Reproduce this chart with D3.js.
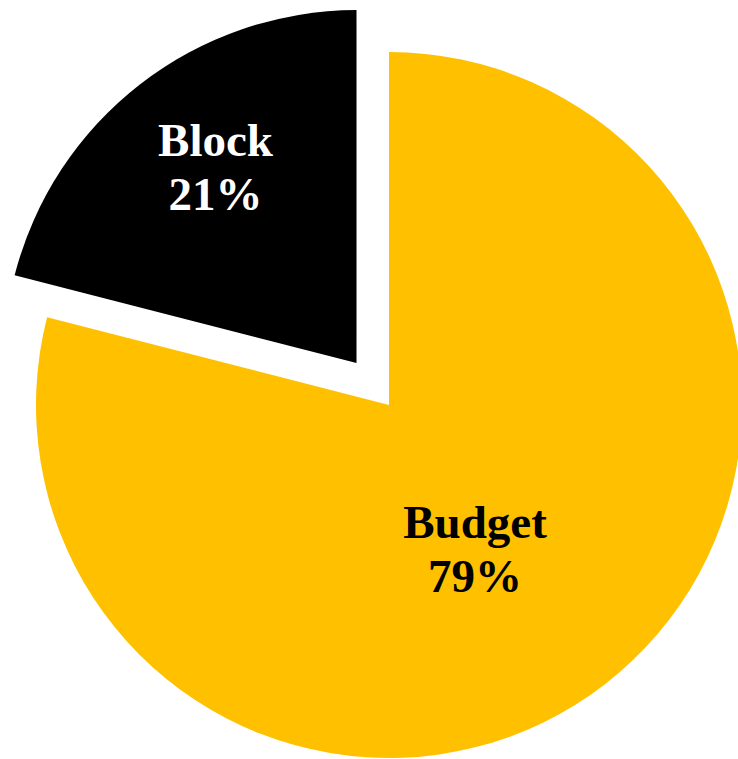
<!DOCTYPE html>
<html>
<head>
<meta charset="utf-8">
<script src="https://cdn.jsdelivr.net/npm/d3@7"></script>
<style>
  html, body { margin: 0; padding: 0; background: #ffffff; }
  svg { display: block; }
</style>
</head>
<body>
<svg id="chart" width="738" height="759"></svg>
<script>
// ---- data ----
const categories = ["Budget", "Block"];
const values = [79, 21];
const percentLabels = ["79%", "21%"];

// ---- layout / style ----
const width = 738, height = 759;
const center = [389, 405];
const radius = 353;
const explode = [0, 53];
const colors = ["#FFC000", "#000000"];
const textColors = ["#000000", "#FFFFFF"];
// label centre offsets relative to each slice's vertex
const labelOffsets = [[86, 144], [-141, -196]];
const fontSize = 47;
const lineGap = 54;

const svg = d3.select("#chart");
const pie = d3.pie().sort(null).value(d => d)(values);
const arc = d3.arc().innerRadius(0).outerRadius(radius);

const g = svg.append("g");
pie.forEach((p, i) => {
  const mid = (p.startAngle + p.endAngle) / 2;
  const dx = Math.sin(mid) * explode[i];
  const dy = -Math.cos(mid) * explode[i];
  const cx = center[0] + dx, cy = center[1] + dy;
  const sg = g.append("g").attr("transform", `translate(${cx},${cy})`);
  sg.append("path").attr("d", arc(p)).attr("fill", colors[i]);
  const lx = labelOffsets[i][0], ly = labelOffsets[i][1];
  const t = sg.append("text")
    .attr("text-anchor", "middle")
    .attr("font-family", "'Liberation Serif', 'Times New Roman', serif")
    .attr("font-weight", "bold")
    .attr("font-size", fontSize)
    .attr("fill", textColors[i]);
  t.append("tspan").attr("x", lx).attr("y", ly - lineGap / 2 + fontSize * 0.33).text(categories[i]);
  t.append("tspan").attr("x", lx).attr("y", ly + lineGap / 2 + fontSize * 0.33).text(percentLabels[i]);
});
</script>
</body>
</html>
